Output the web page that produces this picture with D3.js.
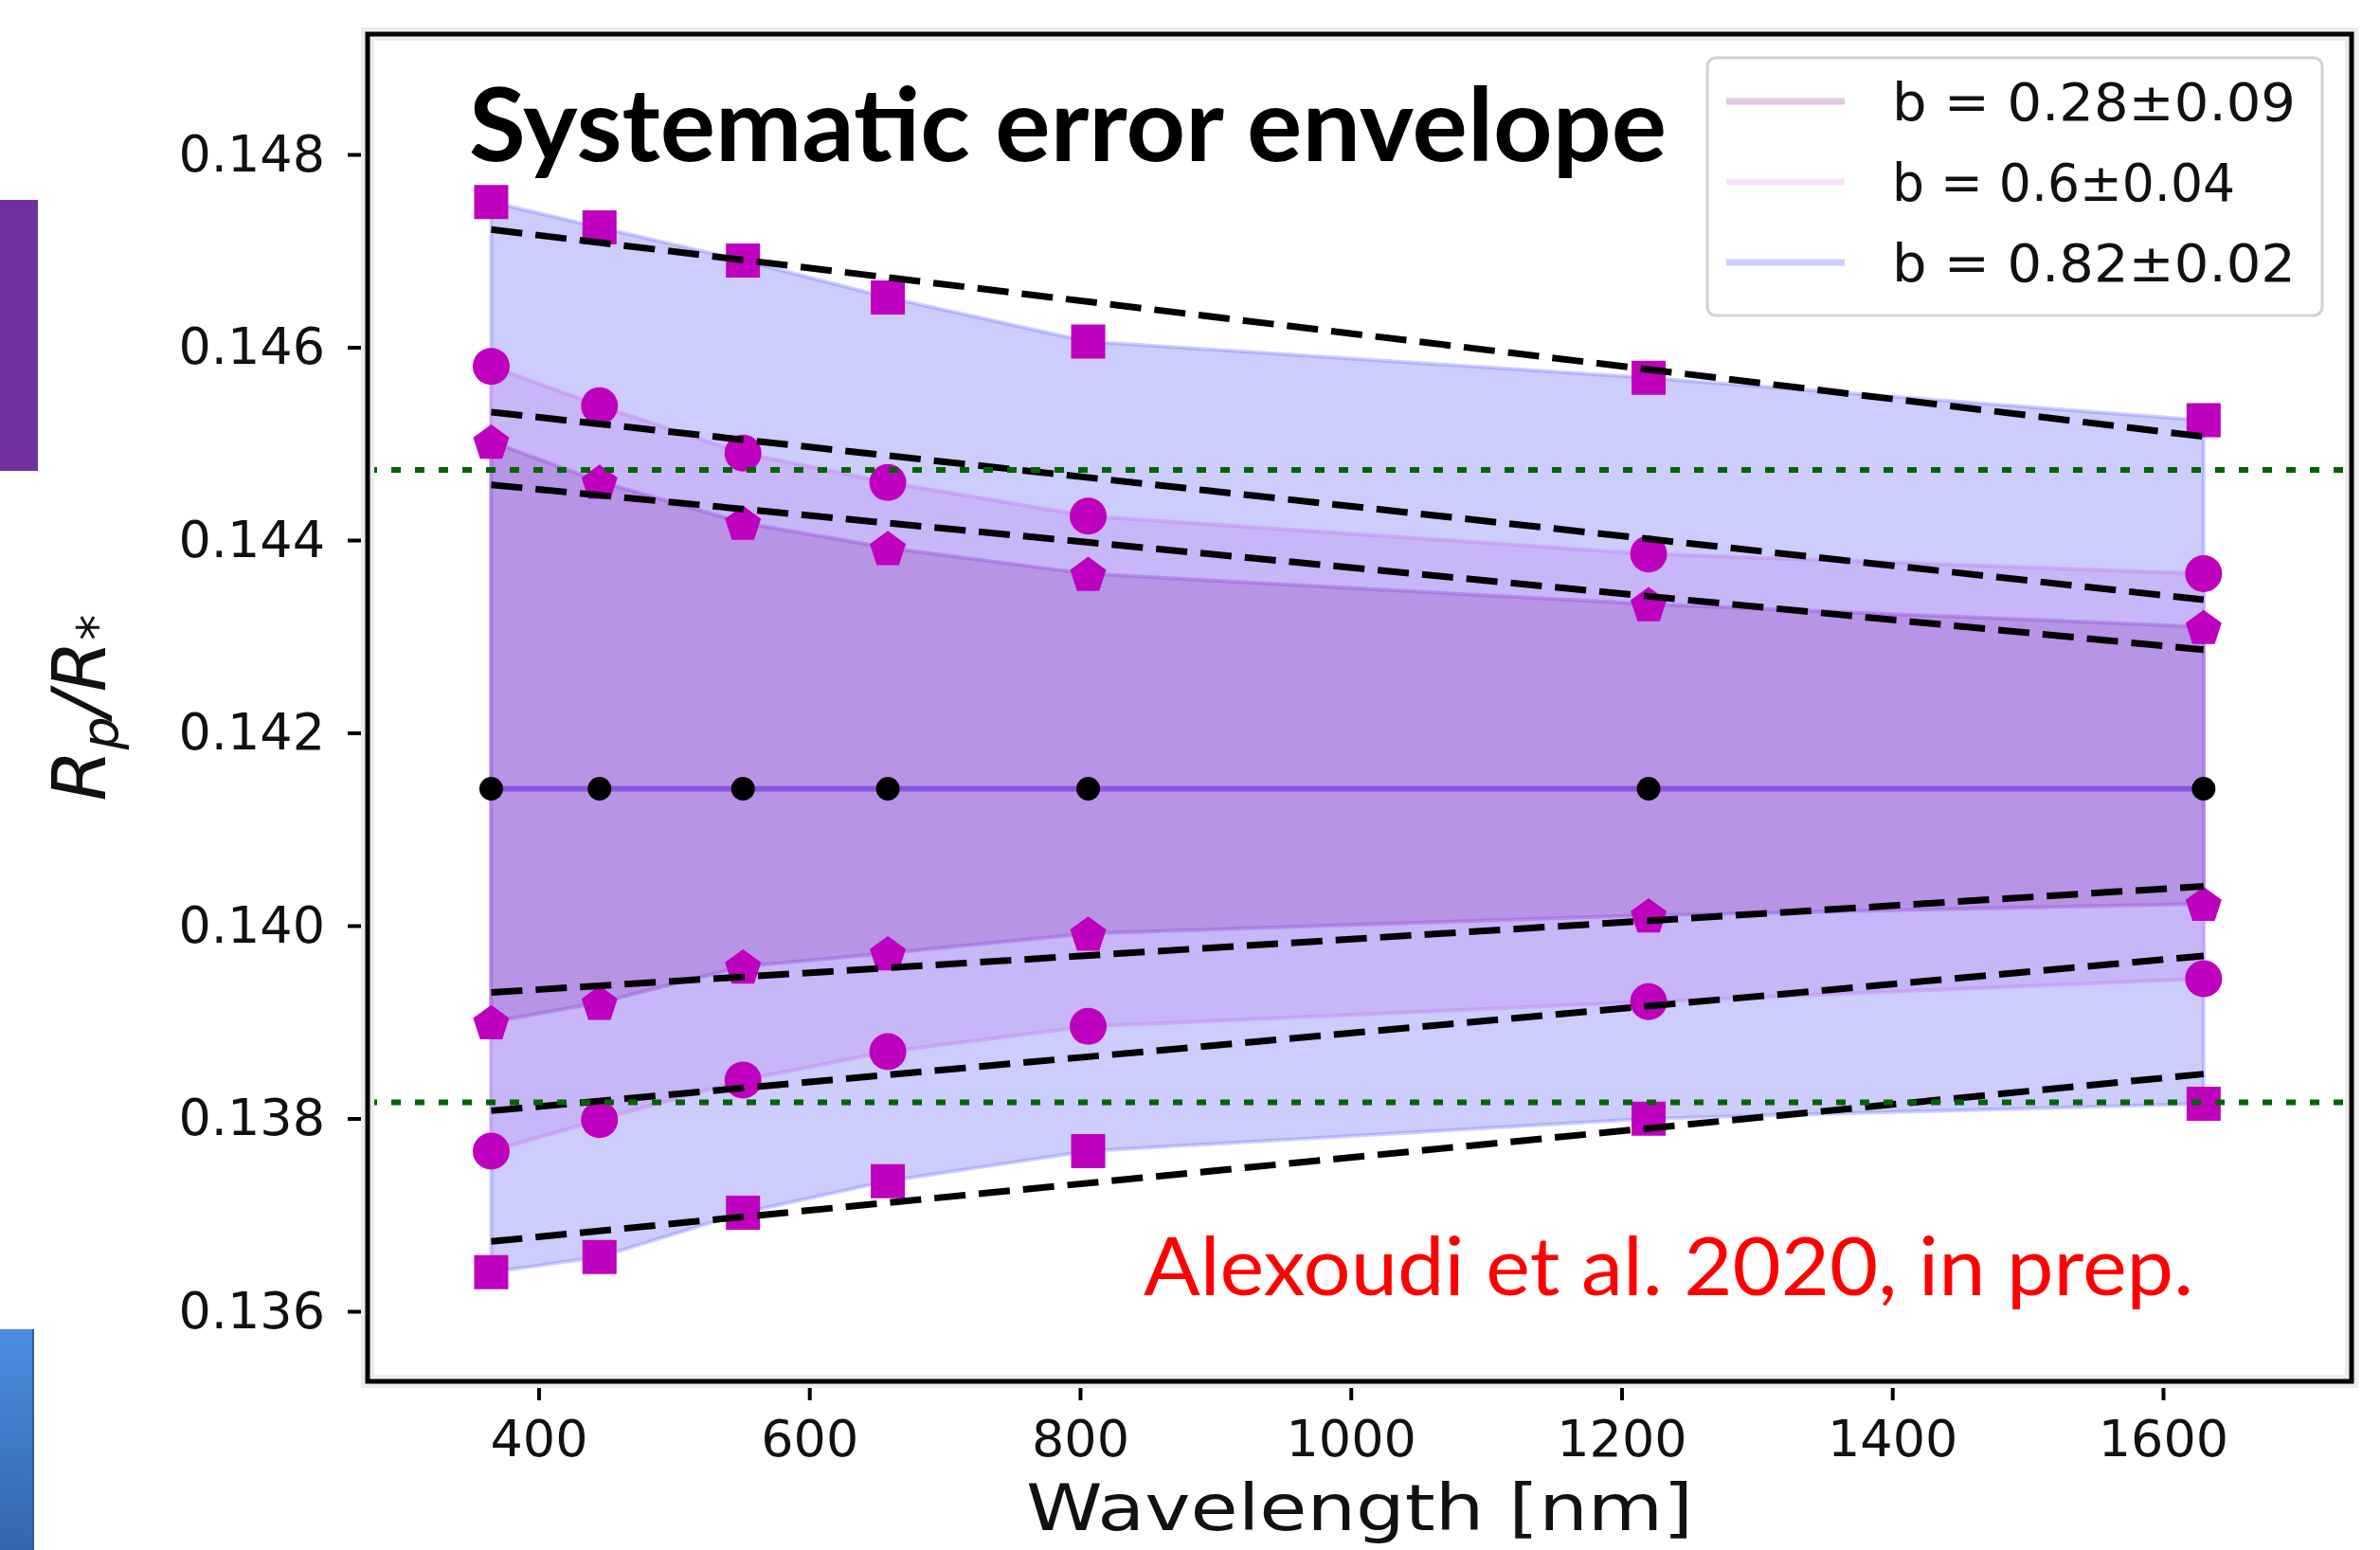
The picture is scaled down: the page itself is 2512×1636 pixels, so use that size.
<!DOCTYPE html>
<html>
<head>
<meta charset="utf-8">
<script src="https://cdn.jsdelivr.net/npm/d3@7"></script>
<style>
  html, body { margin: 0; padding: 0; background: #ffffff; }
  svg { display: block; }
</style>
</head>
<body>
<script>
// ---------------- DATA ----------------
const wavelengths = [365, 445, 551, 658, 806, 1220, 1630];
const b082Upper = [0.147506, 0.147243, 0.146899, 0.146516, 0.146059, 0.145682, 0.145242];
const b082Lower = [0.136405, 0.136563, 0.137022, 0.137350, 0.137661, 0.137998, 0.138152];
const b06Upper  = [0.145802, 0.145392, 0.144901, 0.144596, 0.144249, 0.143856, 0.143651];
const b06Lower  = [0.137661, 0.137988, 0.138398, 0.138693, 0.138955, 0.139211, 0.139450];
const b028Upper = [0.145022, 0.144606, 0.144180, 0.143918, 0.143650, 0.143336, 0.143099];
const b028Lower = [0.139000, 0.139201, 0.139577, 0.139715, 0.139919, 0.140108, 0.140227];
const centralValue = [0.14142, 0.14142, 0.14142, 0.14142, 0.14142, 0.14142, 0.14142];

// linear fits (dashed), evaluated at the first and last wavelength
const fitWavelengths = [365, 1630];
const fitB082Upper = [0.147221, 0.145073];
const fitB06Upper  = [0.145327, 0.143381];
const fitB028Upper = [0.144573, 0.142862];
const fitB028Lower = [0.139307, 0.140408];
const fitB06Lower  = [0.138080, 0.139686];
const fitB082Lower = [0.136724, 0.138461];

// horizontal dotted reference levels
const referenceLevels = [0.144727, 0.138167];

const legendLabels = ["b = 0.28\u00B10.09", "b = 0.6\u00B10.04", "b = 0.82\u00B10.02"];
const xTickValues = [400, 600, 800, 1000, 1200, 1400, 1600];
const yTickValues = [0.136, 0.138, 0.140, 0.142, 0.144, 0.146, 0.148];

const titleText = "Systematic error envelope";
const creditText = "Alexoudi et al. 2020, in prep.";
const xLabelText = "Wavelength [nm]";

// ---------------- LAYOUT ----------------
const W = 2512, H = 1636;
const plot = { left: 388, right: 2482, top: 36, bottom: 1458 };

const svg = d3.select("body").append("svg").attr("width", W).attr("height", H);

const x = d3.scaleLinear().domain([273.7, 1739.3]).range([plot.left, plot.right]);
const y = d3.scaleLinear().domain([0.135273, 0.149248]).range([plot.bottom, plot.top]);

// slide decorations at left edge
const defs = svg.append("defs");
const grad = defs.append("linearGradient").attr("id", "blueGrad")
  .attr("x1", 0).attr("y1", 0).attr("x2", 0).attr("y2", 1);
grad.append("stop").attr("offset", "0%").attr("stop-color", "#4a8fe2");
grad.append("stop").attr("offset", "100%").attr("stop-color", "#3466ad");
svg.append("rect").attr("x", 0).attr("y", 211).attr("width", 40).attr("height", 286).attr("fill", "#7030a0");
svg.append("rect").attr("x", 0).attr("y", 1403).attr("width", 36).attr("height", 233).attr("fill", "url(#blueGrad)");
svg.append("line").attr("x1", 35).attr("x2", 35).attr("y1", 1403).attr("y2", 1636).attr("stroke", "#2c5a9c").attr("stroke-width", 2);

// clip
defs.append("clipPath").attr("id", "plotClip").append("rect")
  .attr("x", plot.left).attr("y", plot.top)
  .attr("width", plot.right - plot.left).attr("height", plot.bottom - plot.top);

const g = svg.append("g").attr("clip-path", "url(#plotClip)");

// ---------------- BANDS ----------------
function bandData(upper, lower) {
  return wavelengths.map((w, i) => ({ w, hi: upper[i], lo: lower[i] }));
}
const area = d3.area().x(d => x(d.w)).y0(d => y(d.lo)).y1(d => y(d.hi));

const bands = [
  { up: b082Upper, lo: b082Lower, fill: "#ccccfd", stroke: "rgba(120,120,255,0.35)" },
  { up: b06Upper,  lo: b06Lower,  fill: "#c7b6f8", stroke: "rgba(200,130,240,0.45)" },
  { up: b028Upper, lo: b028Lower, fill: "#b794e6", stroke: "rgba(150,80,215,0.40)" }
];
bands.forEach(b => {
  g.append("path").datum(bandData(b.up, b.lo)).attr("d", area)
    .attr("fill", b.fill).attr("stroke", b.stroke).attr("stroke-width", 4)
    .attr("stroke-linejoin", "round");
});

// central line
const line = d3.line().x(d => x(d[0])).y(d => y(d[1]));
g.append("path").datum(wavelengths.map((w, i) => [w, centralValue[i]])).attr("d", line)
  .attr("fill", "none").attr("stroke", "#8a56e0").attr("stroke-width", 6);

// ---------------- MARKERS ----------------
const magenta = "#bf00bf";
function pentagonPath(cx, cy, r) {
  const pts = d3.range(5).map(k => {
    const a = (-90 + k * 72) * Math.PI / 180;
    return [cx + r * Math.cos(a), cy + r * Math.sin(a)];
  });
  return "M" + pts.map(p => p.join(",")).join("L") + "Z";
}
const squareSym = d3.symbol().type(d3.symbolSquare).size(36 * 36);
const circleSym = d3.symbol().type(d3.symbolCircle).size(Math.PI * 19.5 * 19.5);

[b082Upper, b082Lower].forEach(series => {
  g.selectAll(null).data(wavelengths).enter().append("path")
    .attr("d", squareSym)
    .attr("transform", (w, i) => `translate(${x(w)},${y(series[i])})`)
    .attr("fill", magenta);
});
[b06Upper, b06Lower].forEach(series => {
  g.selectAll(null).data(wavelengths).enter().append("path")
    .attr("d", circleSym)
    .attr("transform", (w, i) => `translate(${x(w)},${y(series[i])})`)
    .attr("fill", magenta);
});
[b028Upper, b028Lower].forEach(series => {
  g.selectAll(null).data(wavelengths).enter().append("path")
    .attr("d", (w, i) => pentagonPath(x(w), y(series[i]) + 2, 20))
    .attr("fill", magenta);
});
g.selectAll(null).data(wavelengths).enter().append("circle")
  .attr("cx", w => x(w)).attr("cy", (w, i) => y(centralValue[i])).attr("r", 12.5)
  .attr("fill", "#000000");

// ---------------- FITS (dashed) ----------------
[fitB082Upper, fitB06Upper, fitB028Upper, fitB028Lower, fitB06Lower, fitB082Lower].forEach(f => {
  g.append("path").datum(fitWavelengths.map((w, i) => [w, f[i]])).attr("d", line)
    .attr("fill", "none").attr("stroke", "#000000").attr("stroke-width", 7)
    .attr("stroke-dasharray", "33,14");
});

// ---------------- REFERENCE LEVELS (dotted) ----------------
referenceLevels.forEach(v => {
  g.append("line").attr("x1", x.range()[0]).attr("x2", x.range()[1])
    .attr("y1", y(v)).attr("y2", y(v))
    .attr("stroke", "#006400").attr("stroke-width", 6).attr("stroke-dasharray", "10,15");
});

// ---------------- AXES ----------------
const tickFont = "'DejaVu Sans', sans-serif";
const xAxis = svg.append("g").attr("transform", `translate(0,${plot.bottom})`)
  .call(d3.axisBottom(x).tickValues(xTickValues).tickFormat(d3.format("d")).tickSize(20).tickPadding(21));
const yAxis = svg.append("g").attr("transform", `translate(${plot.left},0)`)
  .call(d3.axisLeft(y).tickValues(yTickValues).tickFormat(d3.format(".3f")).tickSize(21).tickPadding(24));
[xAxis, yAxis].forEach(a => {
  a.select(".domain").remove();
  a.selectAll(".tick line").attr("stroke", "#000").attr("stroke-width", 4);
  a.selectAll(".tick text").attr("fill", "#111").style("font-family", tickFont).style("font-size", "54px");
});

// frame with slight grey shadow
svg.append("rect").attr("x", plot.left).attr("y", plot.top)
  .attr("width", plot.right - plot.left).attr("height", plot.bottom - plot.top)
  .attr("fill", "none").attr("stroke", "#ececec").attr("stroke-width", 14);
svg.append("rect").attr("x", plot.left).attr("y", plot.top)
  .attr("width", plot.right - plot.left).attr("height", plot.bottom - plot.top)
  .attr("fill", "none").attr("stroke", "#000").attr("stroke-width", 5);

// axis labels
svg.append("text").attr("x", (plot.left + plot.right) / 2).attr("y", 1615)
  .attr("text-anchor", "middle").attr("textLength", 704).attr("lengthAdjust", "spacingAndGlyphs")
  .style("font-family", tickFont).style("font-size", "67px").attr("fill", "#111")
  .text(xLabelText);

const yl = svg.append("text").attr("transform", `translate(111,${(plot.top + plot.bottom) / 2}) rotate(-90)`)
  .attr("text-anchor", "middle")
  .style("font-family", tickFont).style("font-size", "78px").style("font-style", "italic").attr("fill", "#111");
yl.append("tspan").text("R");
yl.append("tspan").attr("dy", 14).style("font-size", "55px").text("p");
yl.append("tspan").attr("dy", -14).text("/R");
yl.append("tspan").attr("dy", 10).style("font-size", "55px").style("font-style", "normal").text("*");

// ---------------- LEGEND ----------------
const legendColors = ["#e2c9e3", "#f9e3f8", "#ccccfd"];
const lg = svg.append("g");
lg.append("rect").attr("x", 1802).attr("y", 61).attr("width", 649).attr("height", 272)
  .attr("rx", 9).attr("fill", "rgba(255,255,255,0.85)").attr("stroke", "#d2d2d2").attr("stroke-width", 3);
legendLabels.forEach((lab, i) => {
  const ly = 107 + i * 85;
  lg.append("line").attr("x1", 1822).attr("x2", 1947).attr("y1", ly).attr("y2", ly)
    .attr("stroke", legendColors[i]).attr("stroke-width", 7);
  lg.append("text").attr("x", 1997).attr("y", ly + 20)
    .attr("textLength", 426).attr("lengthAdjust", "spacingAndGlyphs")
    .style("font-family", tickFont).style("font-size", "56px").attr("fill", "#111").text(lab);
});
// the middle label is shorter in the reference
lg.selectAll("text").filter((d, i) => i === 1).attr("textLength", 362);

// ---------------- ANNOTATIONS ----------------
svg.append("text").attr("x", 495).attr("y", 170)
  .attr("textLength", 1264).attr("lengthAdjust", "spacingAndGlyphs")
  .style("font-family", "Lato, 'Open Sans', sans-serif").style("font-weight", "bold").style("font-size", "108px")
  .attr("fill", "#000").text(titleText);
svg.append("text").attr("x", 1207).attr("y", 1367)
  .attr("textLength", 1108).attr("lengthAdjust", "spacingAndGlyphs")
  .style("font-family", "Lato, 'Open Sans', sans-serif").style("font-size", "85px")
  .attr("fill", "#ff0000").text(creditText);
</script>
</body>
</html>
